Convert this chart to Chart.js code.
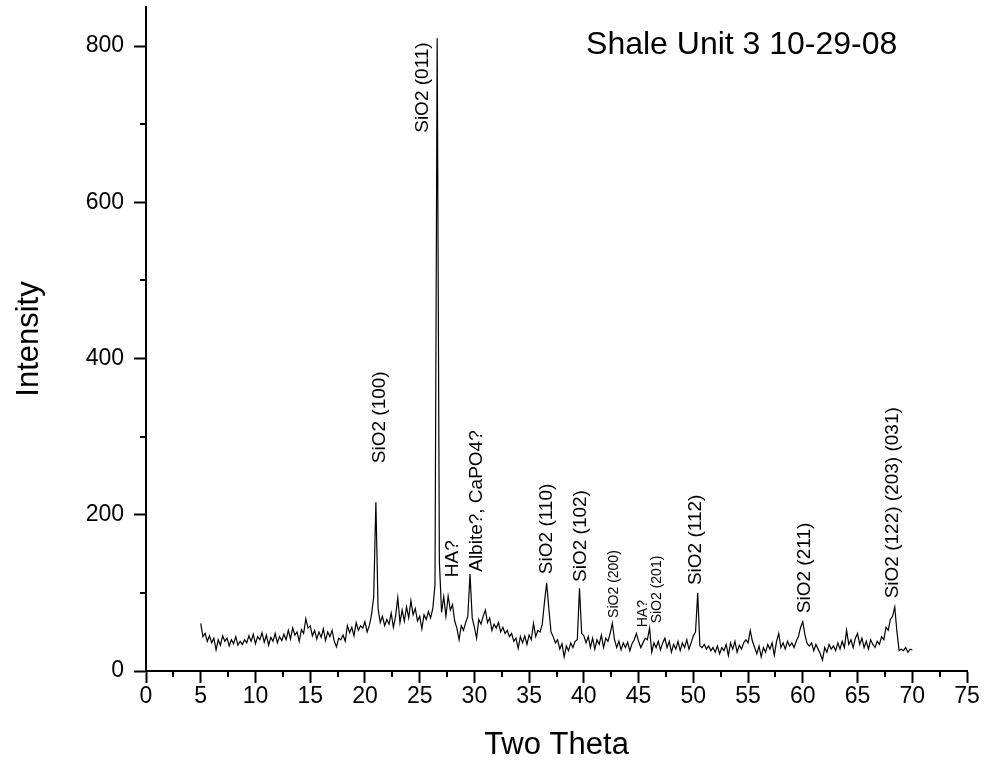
<!DOCTYPE html>
<html>
<head>
<meta charset="utf-8">
<title>Shale Unit 3 10-29-08</title>
<script src="https://cdn.jsdelivr.net/npm/chart.js@4.4.1/dist/chart.umd.min.js"></script>
<style>
  html, body { margin:0; padding:0; background:#fff; }
  #xrd { display:block; }
</style>
</head>
<body>
<canvas id="xrd" width="991" height="771"></canvas>
<script>
// scan positions (degrees 2-theta)
const twoTheta = [
  5.0,5.2,5.4,5.6,5.8,6.0,6.2,6.4,6.6,6.8,
  7.0,7.2,7.4,7.6,7.8,8.0,8.2,8.4,8.6,8.8,
  9.0,9.2,9.4,9.6,9.8,10.0,10.2,10.4,10.6,10.8,
  11.0,11.2,11.4,11.6,11.8,12.0,12.2,12.4,12.6,12.8,
  13.0,13.2,13.4,13.6,13.8,14.0,14.2,14.4,14.6,14.8,
  15.0,15.2,15.4,15.6,15.8,16.0,16.2,16.4,16.6,16.8,
  17.0,17.2,17.4,17.6,17.8,18.0,18.2,18.4,18.6,18.8,
  19.0,19.2,19.4,19.6,19.8,20.0,20.2,20.4,20.6,20.8,
  21.0,21.2,21.4,21.6,21.8,22.0,22.2,22.4,22.6,22.8,
  23.0,23.2,23.4,23.6,23.8,24.0,24.2,24.4,24.6,24.8,
  25.0,25.2,25.4,25.6,25.8,26.0,26.2,26.4,26.6,26.8,
  27.0,27.2,27.4,27.6,27.8,28.0,28.2,28.4,28.6,28.8,
  29.0,29.2,29.4,29.6,29.8,30.0,30.2,30.4,30.6,30.8,
  31.0,31.2,31.4,31.6,31.8,32.0,32.2,32.4,32.6,32.8,
  33.0,33.2,33.4,33.6,33.8,34.0,34.2,34.4,34.6,34.8,
  35.0,35.2,35.4,35.6,35.8,36.0,36.2,36.4,36.6,36.8,
  37.0,37.2,37.4,37.6,37.8,38.0,38.2,38.4,38.6,38.8,
  39.0,39.2,39.4,39.6,39.8,40.0,40.2,40.4,40.6,40.8,
  41.0,41.2,41.4,41.6,41.8,42.0,42.2,42.4,42.6,42.8,
  43.0,43.2,43.4,43.6,43.8,44.0,44.2,44.4,44.6,44.8,
  45.0,45.2,45.4,45.6,45.8,46.0,46.2,46.4,46.6,46.8,
  47.0,47.2,47.4,47.6,47.8,48.0,48.2,48.4,48.6,48.8,
  49.0,49.2,49.4,49.6,49.8,50.0,50.2,50.4,50.6,50.8,
  51.0,51.2,51.4,51.6,51.8,52.0,52.2,52.4,52.6,52.8,
  53.0,53.2,53.4,53.6,53.8,54.0,54.2,54.4,54.6,54.8,
  55.0,55.2,55.4,55.6,55.8,56.0,56.2,56.4,56.6,56.8,
  57.0,57.2,57.4,57.6,57.8,58.0,58.2,58.4,58.6,58.8,
  59.0,59.2,59.4,59.6,59.8,60.0,60.2,60.4,60.6,60.8,
  61.0,61.2,61.4,61.6,61.8,62.0,62.2,62.4,62.6,62.8,
  63.0,63.2,63.4,63.6,63.8,64.0,64.2,64.4,64.6,64.8,
  65.0,65.2,65.4,65.6,65.8,66.0,66.2,66.4,66.6,66.8,
  67.0,67.2,67.4,67.6,67.8,68.0,68.2,68.4,68.6,68.8,
  69.0,69.2,69.4,69.6,69.8,70.0
];
const intensity = [
  61,44,48,38,45,36,42,27,40,33,
  45,38,42,32,40,35,44,33,38,34,
  40,36,45,38,47,35,44,40,49,37,
  46,33,43,38,48,36,44,39,47,40,
  52,41,55,46,50,38,53,48,67,55,
  58,45,52,41,50,43,54,39,50,44,
  52,38,31,42,40,46,38,58,49,56,
  45,62,52,58,55,63,50,58,72,95,
  216,80,62,70,58,66,60,74,56,70,
  94,62,78,64,82,68,90,72,80,64,
  70,54,72,66,76,68,80,110,810,140,
  75,95,70,96,78,85,64,55,40,58,
  52,62,70,124,68,56,42,66,60,70,
  78,62,68,52,60,55,62,50,56,48,
  52,44,48,38,42,29,44,36,45,34,
  46,40,61,44,52,50,60,88,113,80,
  50,44,36,40,28,35,18,32,26,36,
  30,38,40,106,48,45,36,44,30,42,
  28,40,34,46,30,42,38,48,61,40,
  30,38,27,36,30,37,26,35,40,48,
  38,30,36,42,40,55,24,36,30,38,
  27,36,42,30,38,24,34,28,38,26,
  36,30,40,28,36,45,50,100,32,30,
  34,28,32,26,30,24,32,22,30,26,
  34,20,36,28,38,24,33,28,36,40,
  36,52,38,30,22,32,18,30,24,34,
  28,36,20,38,48,30,36,28,38,32,
  36,30,38,44,56,63,46,35,32,36,
  26,34,28,22,14,30,24,34,28,32,
  26,36,28,38,30,52,34,40,30,42,
  48,34,42,30,38,28,40,34,30,38,
  34,44,40,56,52,66,70,82,50,26,
  28,26,30,24,28,27
];

const xTicks = [0,5,10,15,20,25,30,35,40,45,50,55,60,65,70,75];
const xMinorTicks = [2.5,7.5,12.5,17.5,22.5,27.5,32.5,37.5,42.5,47.5,52.5,57.5,62.5,67.5,72.5];
const yTicks = [0,200,400,600,800];
const yMinorTicks = [100,300,500,700];

// peak assignments; anchor = foot of the rotated text, in data units
const peakLabels = ['SiO2 (100)','SiO2 (011)','HA?','Albite?, CaPO4?','SiO2 (110)','SiO2 (102)',
  'SiO2 (200)','HA?','SiO2 (201)','SiO2 (112)','SiO2 (211)','SiO2 (122) (203) (031)'];
const peakLabelX = [21.4,25.3,28.0,30.2,36.6,39.7,42.75,45.4,46.7,50.2,60.2,68.2];
const peakLabelY = [266,689,120,127,124,114,68,56,61,110,74,93];
const peakLabelSmall = [false,false,false,false,false,false,true,true,true,false,false,false];

const FONT = '"Liberation Sans", Arial, sans-serif';

const annotate = {
  id:'annotate',
  afterDatasetsDraw(chart){
    const {ctx, scales:{x, y}} = chart;
    ctx.save();
    ctx.fillStyle = '#000';
    ctx.textBaseline = 'middle';
    ctx.textAlign = 'left';
    peakLabels.forEach((txt, i) => {
      ctx.save();
      ctx.translate(x.getPixelForValue(peakLabelX[i]), y.getPixelForValue(peakLabelY[i]));
      ctx.rotate(-Math.PI/2);
      ctx.font = (peakLabelSmall[i] ? 14 : 19) + 'px ' + FONT;
      ctx.fillText(txt, 0, 0);
      ctx.restore();
    });
    ctx.font = '32px ' + FONT;
    ctx.fillText('Shale Unit 3 10-29-08', x.getPixelForValue(40.2), y.getPixelForValue(801));
    ctx.restore();
  },
  afterDraw(chart){
    // minor ticks, outside the axes
    const {ctx, scales:{x, y}, chartArea:a} = chart;
    ctx.save();
    ctx.strokeStyle = '#000';
    ctx.lineWidth = 2;
    ctx.beginPath();
    xMinorTicks.forEach(v => {
      const px = Math.round(x.getPixelForValue(v));
      ctx.moveTo(px, a.bottom); ctx.lineTo(px, a.bottom + 6);
    });
    yMinorTicks.forEach(v => {
      const py = Math.round(y.getPixelForValue(v));
      ctx.moveTo(a.left, py); ctx.lineTo(a.left - 6, py);
    });
    ctx.stroke();
    ctx.restore();
  }
};

const axisGrid = { drawOnChartArea:false, tickLength:12, tickWidth:2, tickColor:'#000' };

new Chart(document.getElementById('xrd'), {
  type:'line',
  data:{
    datasets:[{
      data: twoTheta.map((t, i) => ({x:t, y:intensity[i]})),
      borderColor:'#000',
      borderWidth:1.2,
      pointRadius:0,
      tension:0,
      fill:false
    }]
  },
  options:{
    responsive:false,
    animation:false,
    devicePixelRatio:1,
    layout:{ padding:{ top:7, right:24, left:0, bottom:0 } },
    plugins:{ legend:{display:false}, tooltip:{enabled:false} },
    scales:{
      x:{
        type:'linear', min:0, max:75,
        afterBuildTicks: s => { s.ticks = xTicks.map(v => ({value:v})); },
        afterFit: s => { s.height = 100; s.paddingLeft = 0; s.paddingRight = 0; },
        ticks:{ color:'#000', font:{size:23, family:FONT}, padding:0, maxRotation:0, autoSkip:false },
        grid: axisGrid,
        border:{ color:'#000', width:2 },
        title:{ display:true, text:'Two Theta', color:'#000', font:{size:31, family:FONT}, padding:{top:0, bottom:7} }
      },
      y:{
        type:'linear', min:0, max:850,
        afterBuildTicks: s => { s.ticks = yTicks.map(v => ({value:v})); },
        afterFit: s => { s.width = 146; s.paddingTop = 0; s.paddingBottom = 0; },
        ticks:{ color:'#000', font:{size:23, family:FONT}, padding:10 },
        grid: axisGrid,
        border:{ color:'#000', width:2 },
        title:{ display:true, text:'Intensity', color:'#000', font:{size:31, family:FONT}, padding:{top:11, bottom:0} }
      }
    }
  },
  plugins:[annotate]
});
</script>
</body>
</html>
